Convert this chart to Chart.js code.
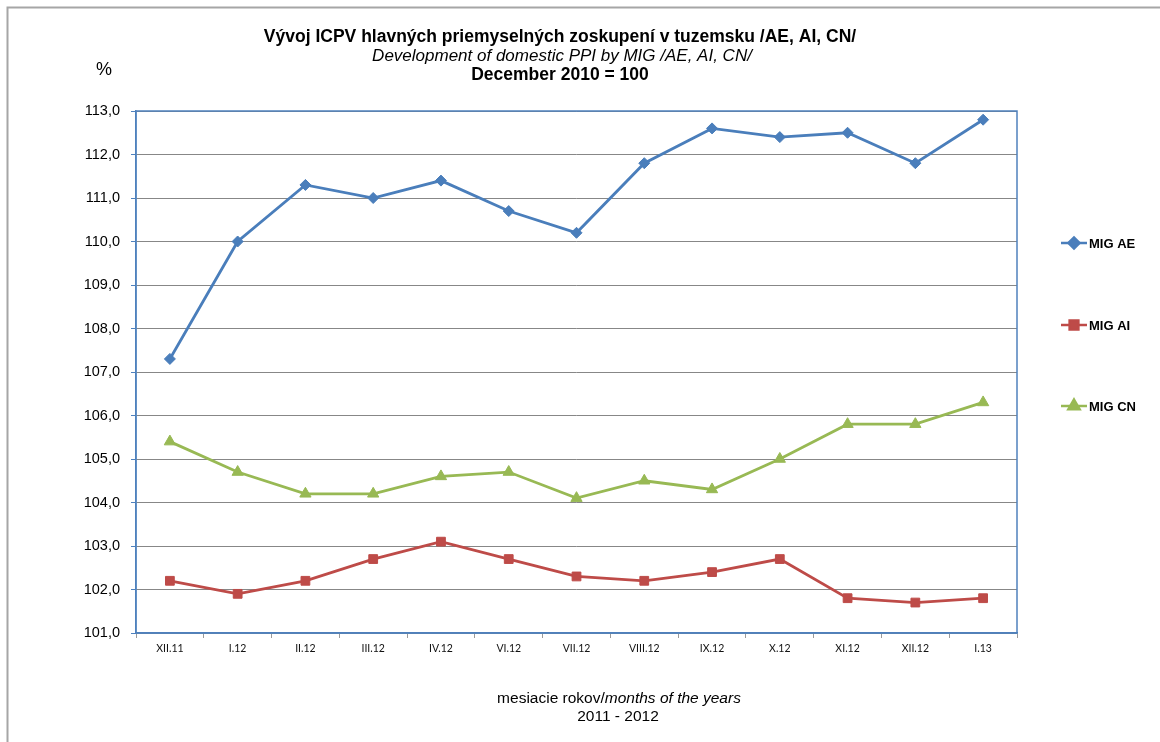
<!DOCTYPE html>
<html>
<head>
<meta charset="utf-8">
<script src="https://cdn.jsdelivr.net/npm/chart.js"></script>
<style>
html,body{margin:0;padding:0;background:#fff;}
#wrap{width:1160px;height:742px;position:relative;}
</style>
</head>
<body>
<div id="wrap"><canvas id="c" width="1160" height="742"></canvas></div>
<script>
const categories = ["XII.11","I.12","II.12","III.12","IV.12","VI.12","VII.12","VIII.12","IX.12","X.12","XI.12","XII.12","I.13"];
const migAE = [107.3,110.0,111.3,111.0,111.4,110.7,110.2,111.8,112.6,112.4,112.5,111.8,112.8];
const migAI = [102.2,101.9,102.2,102.7,103.1,102.7,102.3,102.2,102.4,102.7,101.8,101.7,101.8];
const migCN = [105.4,104.7,104.2,104.2,104.6,104.7,104.1,104.5,104.3,105.0,105.8,105.8,106.3];
const seriesNames = ["MIG AE","MIG AI","MIG CN"];
const titleLines = ["Vývoj ICPV hlavných priemyselných zoskupení v tuzemsku /AE, AI, CN/","Development of domestic PPI by MIG /AE, AI, CN/","December 2010 = 100"];
const yUnit = "%";
const xTitleNormal = "mesiacie rokov/";
const xTitleItalic = "months of the years";
const xTitleLine2 = "2011 - 2012";

const colors = ["#4A7EBB","#BE4B48","#98B954"];
const styles = ["rectRot","rect","triangle"];
const radii = [5.5, 6.2, 6.5];
const FONT = "'Liberation Sans', Arial, sans-serif";

const decor = {
  id: 'decor',
  beforeDraw(chart) {
    const ctx = chart.ctx;
    ctx.save();
    ctx.fillStyle = '#fff';
    ctx.fillRect(0,0,chart.width,chart.height);
    ctx.strokeStyle = '#a6a6a6';
    ctx.lineWidth = 2;
    ctx.beginPath();
    ctx.moveTo(7.5, 742);
    ctx.lineTo(7.5, 7.5);
    ctx.lineTo(1160, 7.5);
    ctx.stroke();
    ctx.restore();
  },
  beforeDatasetsDraw(chart) {
    const ctx = chart.ctx, a = chart.chartArea;
    ctx.save();
    ctx.strokeStyle = '#4F81BD';
    ctx.lineWidth = 1.5;
    ctx.strokeRect(a.left, a.top, a.right - a.left, a.bottom - a.top);
    ctx.restore();
  },
  afterDraw(chart) {
    const ctx = chart.ctx;
    ctx.save();
    ctx.fillStyle = '#000';
    ctx.textAlign = 'center';
    ctx.textBaseline = 'middle';
    ctx.font = "bold 17.5px " + FONT;
    ctx.fillText(titleLines[0], 560, 37);
    ctx.font = "italic 17px " + FONT;
    ctx.fillText(titleLines[1], 562, 56);
    ctx.font = "bold 17.5px " + FONT;
    ctx.fillText(titleLines[2], 560, 75);
    ctx.font = "18px " + FONT;
    ctx.fillText(yUnit, 104, 70);
    // x title
    ctx.font = "15.5px " + FONT;
    const w1 = ctx.measureText(xTitleNormal).width;
    ctx.font = "italic 15.5px " + FONT;
    const w2 = ctx.measureText(xTitleItalic).width;
    const sx = 619 - (w1 + w2) / 2;
    ctx.textAlign = 'left';
    ctx.font = "15.5px " + FONT;
    ctx.fillText(xTitleNormal, sx, 699);
    ctx.font = "italic 15.5px " + FONT;
    ctx.fillText(xTitleItalic, sx + w1, 699);
    ctx.textAlign = 'center';
    ctx.font = "15.5px " + FONT;
    ctx.fillText(xTitleLine2, 618, 717);
    // legend
    const ly = [243, 325, 406];
    chart.data.datasets.forEach((ds, i) => {
      const y = ly[i];
      ctx.strokeStyle = colors[i];
      ctx.lineWidth = 2.5;
      ctx.beginPath();
      ctx.moveTo(1061, y);
      ctx.lineTo(1087, y);
      ctx.stroke();
      ctx.fillStyle = colors[i];
      Chart.helpers.drawPoint(ctx, {pointStyle: styles[i], radius: radii[i], rotation: 0, borderWidth: 1}, 1074, y);
      ctx.fillStyle = '#000';
      ctx.font = "bold 13px " + FONT;
      ctx.textAlign = 'left';
      ctx.fillText(ds.label, 1089, y + 1);
    });
    ctx.restore();
  }
};

function mk(i, data) {
  return {
    label: seriesNames[i],
    data: data,
    borderColor: colors[i],
    backgroundColor: colors[i],
    pointBackgroundColor: colors[i],
    pointBorderColor: colors[i],
    borderWidth: 2.8,
    pointStyle: styles[i],
    pointRadius: radii[i],
    pointBorderWidth: 1,
    tension: 0,
    fill: false
  };
}

new Chart(document.getElementById('c'), {
  type: 'line',
  data: {
    labels: categories,
    datasets: [mk(0, migAE), mk(1, migAI), mk(2, migCN)]
  },
  options: {
    responsive: false,
    animation: false,
    layout: { padding: { left: 0, top: 111, right: 143, bottom: 79 } },
    plugins: { legend: { display: false }, title: { display: false }, tooltip: { enabled: false } },
    scales: {
      x: {
        type: 'category',
        offset: true,
        afterFit(s) { s.height = 30; },
        grid: { display: true, offset: true, drawOnChartArea: false, drawTicks: true, tickLength: 5, color: '#9a9a9a' },
        border: { display: true, color: '#4F81BD', width: 1.5 },
        ticks: { color: '#111', font: { family: "Lato, 'Open Sans', sans-serif", size: 10.5 }, padding: 4, maxRotation: 0, autoSkip: false }
      },
      y: {
        min: 101,
        max: 113,
        afterFit(s) { s.width = 136; },
        grid: { color: '#878787', lineWidth: 1, tickLength: 5, tickColor: '#4F81BD' },
        border: { display: true, color: '#4F81BD', width: 1.5 },
        ticks: {
          stepSize: 1,
          color: '#000',
          padding: 11,
          font: { family: FONT, size: 14.5 },
          callback: v => v.toFixed(1).replace('.', ',')
        }
      }
    }
  },
  plugins: [decor]
});
</script>
</body>
</html>
